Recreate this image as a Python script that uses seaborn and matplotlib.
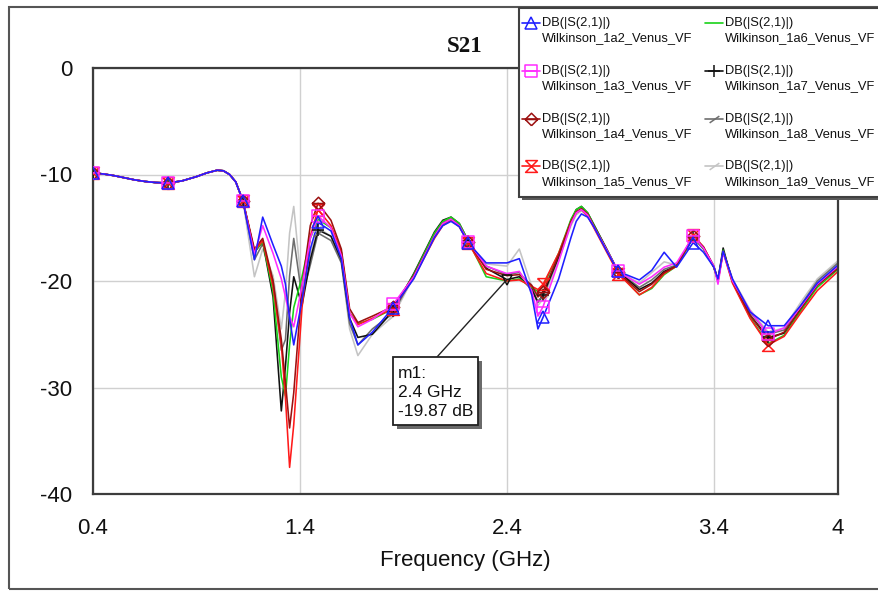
import numpy as np
import pandas as pd
import matplotlib
matplotlib.use("Agg")
import matplotlib.pyplot as plt
from matplotlib.path import Path
from matplotlib.lines import Line2D
from matplotlib.patches import Rectangle
import seaborn as sns

# ---------------------------------------------------------------- data
freq_ghz = [0.40, 0.45, 0.50, 0.55, 0.60, 0.65, 0.70, 0.7625, 0.83, 0.90,
            0.95, 1.00, 1.03, 1.06, 1.09, 1.125,
            1.18, 1.22, 1.27, 1.31, 1.33, 1.35, 1.37, 1.41, 1.45, 1.4875,
            1.55, 1.60, 1.64, 1.68, 1.75, 1.85, 1.95, 2.05, 2.09, 2.13,
            2.17, 2.2125, 2.30, 2.40, 2.46, 2.52, 2.55, 2.575, 2.65, 2.71,
            2.735, 2.76, 2.79, 2.82, 2.88, 2.9375, 3.04, 3.10, 3.16, 3.22,
            3.30, 3.35, 3.40, 3.42, 3.445, 3.47, 3.49, 3.575, 3.6625, 3.74,
            3.82, 3.90, 4.00]

# below ~1.13 GHz all eight Wilkinson variants share one response
lead_db = [-9.85, -9.95, -10.1, -10.3, -10.5, -10.65, -10.75, -10.8, -10.6, -10.2,
           -9.85, -9.6, -9.65, -10.0, -10.7, -12.5]

s21_1a2 = lead_db + [
    -18.0, -14.0, -16.6, -18.6, -20.3, -23.5, -26.0, -21.8, -17.0, -14.5,
    -15.3, -17.9, -23.5, -26.0, -24.8, -22.5, -19.8, -15.9, -14.8, -14.4,
    -14.9, -16.4, -18.3, -18.3, -17.9, -21.3, -24.5, -23.4, -19.8, -15.9,
    -14.4, -13.7, -14.0, -14.9, -17.1, -19.1, -19.9, -19.0, -17.3, -18.7,
    -16.4, -17.3, -18.7, -19.8, -17.2, -18.7, -19.8, -22.9, -24.2, -24.2,
    -22.3, -20.2, -18.5]
s21_1a3 = lead_db + [
    -17.5, -14.8, -17.4, -19.8, -21.5, -23.3, -24.3, -20.5, -16.0, -13.9,
    -15.0, -17.6, -23.0, -24.3, -23.6, -22.2, -19.6, -15.8, -14.6, -14.2,
    -14.8, -16.3, -18.6, -19.3, -19.1, -20.9, -23.3, -22.4, -18.2, -14.6,
    -13.6, -13.3, -13.8, -14.9, -17.0, -19.1, -20.3, -19.6, -18.7, -18.3,
    -15.8, -16.9, -18.6, -20.3, -17.3, -18.8, -20.0, -22.8, -25.0, -24.4,
    -22.4, -20.3, -18.6]
s21_1a4 = lead_db + [
    -17.0, -16.0, -20.0, -25.5, -29.5, -33.8, -30.5, -20.5, -14.8, -12.7,
    -14.3, -17.0, -22.6, -23.9, -23.3, -22.4, -19.5, -15.8, -14.6, -14.2,
    -14.8, -16.3, -18.9, -19.5, -19.4, -20.4, -21.5, -21.0, -17.6, -14.4,
    -13.5, -13.2, -13.7, -14.8, -17.0, -19.2, -21.0, -20.3, -19.2, -18.6,
    -15.8, -16.8, -18.6, -20.0, -17.2, -18.7, -20.0, -23.2, -25.5, -24.8,
    -22.6, -20.4, -18.8]
s21_1a5 = lead_db + [
    -17.2, -16.2, -20.5, -26.0, -31.0, -37.5, -33.5, -22.5, -15.8, -13.3,
    -14.8, -17.3, -23.0, -24.1, -23.5, -22.6, -19.7, -16.0, -14.8, -14.3,
    -14.9, -16.4, -19.3, -20.0, -19.9, -20.5, -20.8, -20.3, -17.4, -14.4,
    -13.6, -13.3, -13.9, -15.0, -17.2, -19.3, -21.3, -20.6, -19.3, -18.6,
    -15.7, -16.8, -18.7, -20.0, -17.3, -18.9, -20.2, -23.5, -26.0, -25.2,
    -23.0, -20.9, -19.1]
s21_1a6 = lead_db + [
    -17.3, -16.3, -21.0, -29.0, -30.8, -26.0, -22.5, -19.6, -16.0, -14.2,
    -15.0, -17.3, -23.0, -24.0, -23.6, -22.6, -19.4, -15.5, -14.4, -14.0,
    -14.6, -16.2, -19.6, -20.0, -19.8, -20.6, -21.0, -20.5, -17.4, -14.2,
    -13.3, -13.0, -13.6, -14.7, -17.0, -19.2, -21.3, -20.7, -19.4, -18.6,
    -15.9, -16.9, -18.7, -20.0, -17.1, -18.8, -20.1, -23.4, -25.9, -25.1,
    -22.8, -20.6, -18.9]
s21_1a7 = lead_db + [
    -17.3, -16.3, -21.5, -32.2, -28.0, -23.0, -19.6, -22.3, -18.0, -15.2,
    -15.8, -18.0, -23.5, -25.3, -25.0, -22.8, -19.3, -15.4, -14.3, -14.0,
    -14.6, -16.2, -18.8, -19.87, -19.6, -20.8, -22.0, -21.3, -17.7, -14.3,
    -13.3, -13.0, -13.6, -14.7, -16.9, -19.1, -20.8, -20.2, -19.1, -18.6,
    -15.9, -16.9, -18.7, -19.9, -16.9, -18.7, -20.0, -23.2, -25.3, -24.9,
    -22.7, -20.4, -18.6]
s21_1a8 = lead_db + [
    -18.0, -16.5, -20.0, -26.5, -25.5, -19.5, -16.0, -21.5, -18.5, -15.5,
    -16.2, -18.3, -24.0, -26.0, -24.5, -23.0, -19.5, -15.6, -14.5, -14.2,
    -14.8, -16.3, -18.6, -19.4, -19.2, -20.6, -22.0, -21.4, -17.8, -14.6,
    -13.6, -13.3, -13.8, -14.8, -17.0, -19.1, -20.6, -19.9, -18.9, -18.5,
    -15.9, -17.0, -18.7, -20.0, -17.2, -18.7, -19.9, -22.9, -25.0, -24.6,
    -22.3, -20.0, -18.3]
s21_1a9 = lead_db + [
    -19.6, -17.0, -19.5, -24.5, -21.0, -15.5, -13.0, -21.0, -17.5, -15.0,
    -15.8, -18.2, -24.5, -27.0, -25.0, -23.3, -19.6, -15.7, -14.6, -14.3,
    -14.9, -16.4, -18.4, -18.6, -17.0, -20.5, -22.3, -21.7, -18.0, -14.8,
    -13.8, -13.4, -13.9, -14.9, -17.0, -19.1, -20.2, -19.2, -18.2, -18.5,
    -16.0, -17.0, -18.6, -19.9, -17.2, -18.6, -19.8, -22.7, -24.8, -24.4,
    -22.0, -19.8, -18.1]

trace_names = ["Wilkinson_1a2_Venus_VF", "Wilkinson_1a3_Venus_VF",
               "Wilkinson_1a4_Venus_VF", "Wilkinson_1a5_Venus_VF",
               "Wilkinson_1a6_Venus_VF", "Wilkinson_1a7_Venus_VF",
               "Wilkinson_1a8_Venus_VF", "Wilkinson_1a9_Venus_VF"]
trace_values = [s21_1a2, s21_1a3, s21_1a4, s21_1a5,
                s21_1a6, s21_1a7, s21_1a8, s21_1a9]
measurement = "DB(|S(2,1)|)"

marker_freqs = [0.4, 0.7625, 1.125, 1.4875, 1.85, 2.2125, 2.575, 2.9375, 3.30, 3.6625]
x_ticks = [0.4, 1.4, 2.4, 3.4, 4.0]
x_tick_labels = ["0.4", "1.4", "2.4", "3.4", "4"]
y_ticks = [0, -10, -20, -30, -40]
y_tick_labels = ["0", "-10", "-20", "-30", "-40"]
m1_freq = 2.4
m1_trace = "Wilkinson_1a7_Venus_VF"

# ---------------------------------------------------------------- styles
C = Path.MOVETO
L = Path.LINETO
hourglass = Path([(-1, 1), (1, 1), (-1, -1), (1, -1), (-1, 1)], [C, L, L, L, L])
boxed_bar = Path([(-1, -1), (1, -1), (1, 1), (-1, 1), (-1, -1), (-1, 0), (1, 0)],
                 [C, L, L, L, L, C, L])
diamond_bar = Path([(0, -1), (1, 0), (0, 1), (-1, 0), (0, -1), (-1, 0), (1, 0)],
                   [C, L, L, L, L, C, L])
slash = Path([(-1, -0.7), (1, 0.7)], [C, L])

colors = {
    trace_names[0]: "#1f1fff",
    trace_names[1]: "#ff2cff",
    trace_names[2]: "#9b1010",
    trace_names[3]: "#ff1a1a",
    trace_names[4]: "#19d219",
    trace_names[5]: "#111111",
    trace_names[6]: "#6e6e6e",
    trace_names[7]: "#c4c4c4",
}
markers = {
    trace_names[0]: ("^", 8.5),
    trace_names[1]: (boxed_bar, 8.5),
    trace_names[2]: (diamond_bar, 9.0),
    trace_names[3]: (hourglass, 8.5),
    trace_names[4]: (None, 0),
    trace_names[5]: ("+", 8.0),
    trace_names[6]: (slash, 7.0),
    trace_names[7]: (slash, 7.0),
}

sns.set_theme(style="white")
plt.rcParams["font.family"] = ["Liberation Sans", "DejaVu Sans"]

W, H = 879, 592


def fx(px):
    return px / W


def fy(py):
    return 1 - py / H


fig = plt.figure(figsize=(W / 100, H / 100), dpi=100)
fig.patch.set_facecolor("white")
ax = fig.add_axes([fx(93), fy(494), (838 - 93) / W, (494 - 68) / H])

# ---------------------------------------------------------------- traces
frames = [pd.DataFrame({"freq": freq_ghz, "db": vals, "trace": name})
          for name, vals in zip(trace_names, trace_values)]
df = pd.concat(frames, ignore_index=True)
draw_order = list(reversed(trace_names))

sns.lineplot(data=df, x="freq", y="db", hue="trace", hue_order=draw_order,
             palette=colors, estimator=None, sort=False, linewidth=1.15,
             legend=False, ax=ax)

marker_idx = [freq_ghz.index(f) for f in marker_freqs]
for name in draw_order:
    mk, ms = markers[name]
    if mk is None:
        continue
    sub = df[df["trace"] == name].reset_index(drop=True)
    ax.plot(sub["freq"], sub["db"], linestyle="none", marker=mk, markevery=marker_idx,
            markersize=ms, markerfacecolor="none", markeredgecolor=colors[name],
            markeredgewidth=1.1, zorder=3)

# ---------------------------------------------------------------- axes
ax.set_xlim(0.4, 4.0)
ax.set_ylim(-40, 0)
ax.set_xticks(x_ticks)
ax.set_xticklabels(x_tick_labels)
ax.set_yticks(y_ticks)
ax.set_yticklabels(y_tick_labels)
ax.tick_params(axis="both", length=0, labelsize=16, colors="#111111")
ax.tick_params(axis="y", pad=15)
ax.tick_params(axis="x", pad=17)
ax.grid(True, color="#d0d0d0", linewidth=1.0)
ax.set_axisbelow(True)
for sp in ax.spines.values():
    sp.set_visible(True)
    sp.set_color("#3c3c3c")
    sp.set_linewidth(1.6)
ax.set_xlabel("Frequency (GHz)", fontsize=16, color="#111111", labelpad=8)
ax.set_ylabel("")

fig.text(fx(465), fy(47), "S21", ha="center", va="center", fontsize=16.5,
         fontweight="bold", family=["Liberation Serif", "DejaVu Serif"], color="#111111")

# outer frame
fig.add_artist(Rectangle((fx(9), fy(589)), (900 - 9) / W, (589 - 7) / H,
                         transform=fig.transFigure, fill=False,
                         edgecolor="#555555", linewidth=1.5, zorder=1))

# ---------------------------------------------------------------- m1 marker
m1_db = df[(df["trace"] == m1_trace) & (df["freq"] == m1_freq)]["db"].iloc[0]
ax.plot([m1_freq], [m1_db], marker="v", markersize=7, markerfacecolor="none",
        markeredgecolor="#111111", markeredgewidth=1.1, zorder=6)
ax.annotate("", xy=(m1_freq, m1_db), xytext=(fx(437), fy(357)),
            textcoords="figure fraction",
            arrowprops=dict(arrowstyle="-", color="#222222", lw=1.0,
                            shrinkA=0, shrinkB=0), zorder=6)
fig.add_artist(Rectangle((fx(397), fy(429)), 85 / W, 68 / H, transform=fig.transFigure,
                         facecolor="#6a6a6a", edgecolor="none", zorder=7))
fig.add_artist(Rectangle((fx(393), fy(425)), 85 / W, 68 / H, transform=fig.transFigure,
                         facecolor="white", edgecolor="#222222", linewidth=1.3, zorder=8))
m1_lines = ["m1:", f"{m1_freq:g} GHz", f"{m1_db:.2f} dB"]
for k, txt in enumerate(m1_lines):
    fig.text(fx(398), fy(373 + 19.5 * k), txt, ha="left", va="center",
             fontsize=12.5, color="#111111", zorder=9)

# ---------------------------------------------------------------- legend
fig.add_artist(Rectangle((fx(522), fy(200)), 400 / W, 189 / H, transform=fig.transFigure,
                         facecolor="#5a5a5a", edgecolor="none", zorder=10))
fig.add_artist(Rectangle((fx(519), fy(197)), 400 / W, 189 / H, transform=fig.transFigure,
                         facecolor="white", edgecolor="#404040", linewidth=1.5, zorder=11))
for i, name in enumerate(trace_names):
    col, row = divmod(i, 4)
    x0 = 522 + 183 * col
    y1 = 23 + 47.8 * row
    fig.add_artist(Line2D([fx(x0), fx(x0 + 18)], [fy(y1), fy(y1)], transform=fig.transFigure,
                          color=colors[name], linewidth=1.2, zorder=12))
    mk, ms = markers[name]
    if mk is not None:
        fig.add_artist(Line2D([fx(x0 + 9)], [fy(y1)], transform=fig.transFigure,
                              linestyle="none", marker=mk, markersize=ms,
                              markerfacecolor="none", markeredgecolor=colors[name],
                              markeredgewidth=1.1, zorder=12))
    fig.text(fx(x0 + 20), fy(y1), measurement, ha="left", va="center",
             fontsize=9.3, color="#111111", zorder=13)
    fig.text(fx(x0 + 20), fy(y1 + 15.5), name, ha="left", va="center",
             fontsize=9.3, color="#111111", zorder=13)

fig.savefig("out.png", dpi=100, facecolor="white")
